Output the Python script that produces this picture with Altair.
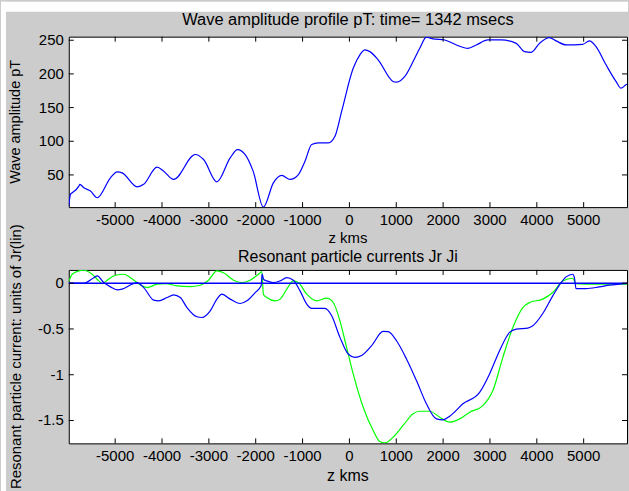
import altair as alt
import pandas as pd

# ---- wave amplitude profile (pT) vs z (km) ----
wave_z = [-5990, -5952, -5916, -5775, -5754, -5669, -5526, -5383, -5100, -4957, -4851,
          -4532, -4391, -4106, -3965, -3752, -3290, -3113, -2828, -2545, -2389, -2225,
          -2055, -1836, -1623, -1444, -1267, -1097, -948, -805, -664, -451, -309, -166,
          81, 224, 330, 437, 613, 933, 1005, 1182, 1359, 1501, 1644, 1785, 2034, 2283,
          2530, 2709, 2956, 3241, 3561, 3737, 3880, 4057, 4270, 4412, 4625, 4979, 5122,
          5264, 5477, 5690, 5797, 5903, 5990]
wave_amp = [4, 21.6, 23.5, 33.4, 36, 31, 26, 16.1, 45.7, 54.6, 53.1,
            32.4, 36, 61.5, 55.6, 43.3, 80.3, 72.9, 39.8, 75.3, 87.7, 80.3,
            55.6, 2.2, 38.3, 49.3, 43.3, 49.7, 70.4, 95.1, 97.5, 97.5, 107.4, 144.4,
            208.4, 228.3, 235.7, 233.1, 220.9, 188.8, 187.7, 196.2, 218.3, 238, 254.5, 252, 250.4, 243,
            238, 243, 250.4, 250.4, 245.4, 233.1, 232.1, 245.4, 253.8, 249, 243, 243.9, 249,
            240.5, 213.5, 188.8, 178.8, 183.9, 186]

# ---- resonant particle currents ----
jr_z = [-5990, -5669, -5456, -5383, -5243, -5100, -4957, -4851, -4638, -4532, -4391,
        -4178, -4072, -3893, -3752, -3610, -3467, -3254, -3147, -2971, -2828, -2722,
        -2545, -2332, -2189, -2012, -1885, -1862, -1830, -1763, -1623, -1480, -1337,
        -1197, -1054, -911, -805, -522, -379, -202, -26, 117, 260, 473, 720, 826, 1005,
        1218, 1431, 1644, 1857, 1997, 2140, 2423, 2779, 2992, 3205, 3418, 3561, 3808,
        3914, 4127, 4340, 4519, 4625, 4766, 4802, 4838, 5051, 5334, 5547, 5990]
jr_val = [0.0, 0.0, 0.06, 0.08, 0.007, -0.04, -0.073, -0.065, -0.01, 0.007, -0.048,
          -0.185, -0.193, -0.157, -0.127, -0.157, -0.266, -0.367, -0.375, -0.302, -0.174, -0.12,
          -0.174, -0.222, -0.193, -0.102, -0.029, 0.1, 0.04, 0.025, 0.007, 0.025, 0.06,
          0.033, -0.084, -0.229, -0.276, -0.276, -0.356, -0.592, -0.774, -0.81, -0.79, -0.683, -0.527, -0.53, -0.629,
          -0.828, -1.064, -1.318, -1.482, -1.493, -1.453, -1.318, -1.192, -0.991, -0.737, -0.538, -0.501, -0.49,
          -0.465, -0.331, -0.138, 0.007, 0.069, 0.098, 0.061, -0.059, -0.059, -0.04, -0.022, 0.0]

ji_z = [-5990, -5916, -5775, -5669, -5490, -5349, -5277, -5170, -4994, -4817, -4674,
        -4532, -4425, -4319, -4106, -3929, -3680, -3397, -3184, -3007, -2828, -2687,
        -2474, -2296, -2119, -1942, -1870, -1836, -1763, -1586, -1480, -1337, -1197,
        -1090, -911, -698, -486, -345, -202, -60, 81, 294, 507, 649, 756, 933, 1146,
        1359, 1501, 1714, 1927, 2140, 2353, 2566, 2849, 3062, 3275, 3488, 3701, 3844,
        4127, 4340, 4553, 4766, 4838, 5192, 5990]
ji_val = [0.02, 0.098, 0.134, 0.142, 0.098, 0.025, -0.004, 0.033, 0.087, 0.098, 0.06,
          0.007, -0.029, -0.048, -0.011, -0.004, -0.029, -0.037, -0.022, 0.033, 0.134, 0.115,
          0.033, 0.007, 0.033, 0.098, 0.126, -0.12, -0.157, -0.193, -0.174, -0.065, 0.025,
          0.007, -0.12, -0.193, -0.163, -0.211, -0.411, -0.702, -0.991, -1.355, -1.609, -1.729, -1.745, -1.682, -1.554,
          -1.427, -1.399, -1.399, -1.464, -1.518, -1.482, -1.41, -1.337, -1.173, -0.81, -0.484, -0.266, -0.211,
          -0.174, -0.102, 0.025, 0.054, -0.004, -0.011, -0.011]

zero_z = [-5990, 5990]
zero_val = [0.0, 0.0]

# ---- axes ----
x_ticks = [-5000, -4000, -3000, -2000, -1000, 0, 1000, 2000, 3000, 4000, 5000]
top_ticks = [50, 100, 150, 200, 250]
bottom_ticks = [0, -0.5, -1, -1.5]

top_title = "Wave amplitude profile pT: time= 1342 msecs"
bottom_title = "Resonant particle currents Jr Ji"
x_title = "z kms"
top_y_title = "Wave amplitude pT"
bottom_y_title = "Resonant particle current: units of Jr(lin)"

W = 560
H_TOP = 171
H_BOT = 174
X_DOMAIN = [-5990, 5925]
FONT = "Liberation Sans"
BLUE = "#0000ff"
GREEN = "#00ff00"


def num_label(v):
    """Plain ASCII tick text: 0, 50, -0.5, -5000 ..."""
    return "%g" % v


def panel_ticks(xs, ys, yvals, h):
    """Inward MATLAB-style ticks on all four sides of the axes box."""
    xdf = pd.DataFrame({"t": x_ticks})
    ydf = pd.DataFrame({"t": yvals})
    rule = dict(color="black", strokeWidth=1)
    return [
        alt.Chart(xdf).mark_rule(**rule).encode(
            x=alt.X("t:Q", scale=xs, axis=None), y=alt.value(h - 5), y2=alt.value(h)),
        alt.Chart(xdf).mark_rule(**rule).encode(
            x=alt.X("t:Q", scale=xs, axis=None), y=alt.value(0), y2=alt.value(5)),
        alt.Chart(ydf).mark_rule(**rule).encode(
            y=alt.Y("t:Q", scale=ys, axis=None), x=alt.value(0), x2=alt.value(5)),
        alt.Chart(ydf).mark_rule(**rule).encode(
            y=alt.Y("t:Q", scale=ys, axis=None), x=alt.value(W - 5), x2=alt.value(W)),
    ]


def text_at(text, x, y, size, angle=0):
    return alt.Chart(pd.DataFrame({"label": [text]})).mark_text(
        font=FONT, fontSize=size, color="black", align="center",
        baseline="middle", angle=angle
    ).encode(text="label:N", x=alt.value(x), y=alt.value(y))


def tick_labels_x(xs, h):
    df = pd.DataFrame({"t": x_ticks, "s": [num_label(v) for v in x_ticks]})
    return alt.Chart(df).mark_text(
        font=FONT, fontSize=15, color="black", align="center", baseline="top"
    ).encode(
        x=alt.X("t:Q", scale=xs, axis=None),
        y=alt.value(h + 6),
        text="s:N",
    )


def tick_labels_y(ys, vals):
    df = pd.DataFrame({"t": vals, "s": [num_label(v) for v in vals]})
    return alt.Chart(df).mark_text(
        font=FONT, fontSize=15, color="black", align="right", baseline="middle"
    ).encode(
        y=alt.Y("t:Q", scale=ys, axis=None),
        x=alt.value(-5),
        text="s:N",
    )


# ---------------- top panel ----------------
xs_top = alt.Scale(domain=X_DOMAIN, nice=False, zero=False)
ys_top = alt.Scale(domain=[2.2, 255.3], nice=False, zero=False)

wave_df = pd.DataFrame({"z": wave_z, "amp": wave_amp})
wave_line = alt.Chart(wave_df).mark_line(
    color=BLUE, strokeWidth=1.2, clip=True, interpolate="monotone"
).encode(
    x=alt.X("z:Q", scale=xs_top, axis=None),
    y=alt.Y("amp:Q", scale=ys_top, axis=None),
)

# white page margin above and left of the grey figure area
one = pd.DataFrame({"k": [0]})
margin_top = alt.Chart(one).mark_rect(color="white").encode(
    x=alt.value(-68), x2=alt.value(561), y=alt.value(-35), y2=alt.value(-25))
margin_left = alt.Chart(one).mark_rect(color="white").encode(
    x=alt.value(-68), x2=alt.value(-63), y=alt.value(-35), y2=alt.value(456))

top = alt.layer(
    margin_top, margin_left, wave_line,
    *panel_ticks(xs_top, ys_top, top_ticks, H_TOP),
    tick_labels_x(xs_top, H_TOP),
    tick_labels_y(ys_top, top_ticks),
    text_at(top_title, 280, -17, 16.5),
    text_at(x_title, 280, H_TOP + 31, 15),
    text_at(top_y_title, -53, H_TOP / 2, 14.5, angle=270),
).properties(width=W, height=H_TOP)

# ---------------- bottom panel ----------------
xs_bot = alt.Scale(domain=X_DOMAIN, nice=False, zero=False)
ys_bot = alt.Scale(domain=[-1.75, 0.145], nice=False, zero=False)

jr_df = pd.DataFrame({"z": jr_z, "j": jr_val})
ji_df = pd.DataFrame({"z": ji_z, "j": ji_val})
zero_df = pd.DataFrame({"z": zero_z, "j": zero_val})

enc = dict(x=alt.X("z:Q", scale=xs_bot, axis=None), y=alt.Y("j:Q", scale=ys_bot, axis=None))

ji_line = alt.Chart(ji_df).mark_line(
    color=GREEN, strokeWidth=1.2, clip=True, interpolate="monotone").encode(**enc)
jr_line = alt.Chart(jr_df).mark_line(
    color=BLUE, strokeWidth=1.2, clip=True, interpolate="monotone").encode(**enc)
zero_line = alt.Chart(zero_df).mark_line(
    color=BLUE, strokeWidth=1.5, clip=True).encode(**enc)

bottom = alt.layer(
    ji_line, jr_line, zero_line,
    *panel_ticks(xs_bot, ys_bot, bottom_ticks, H_BOT),
    tick_labels_x(xs_bot, H_BOT),
    tick_labels_y(ys_bot, bottom_ticks),
    text_at(bottom_title, 280, -13, 16),
    text_at(x_title, 280, H_BOT + 33, 16),
    text_at(bottom_y_title, -53, H_BOT / 2, 15, angle=270),
).properties(width=W, height=H_BOT)

chart = alt.vconcat(top, bottom, spacing=63, bounds="flush").properties(
    padding=0, background="#cccccc"
).configure_view(
    fill="white", stroke="black", strokeWidth=1
)

chart.save("out.html", embed_options={"renderer": "svg", "actions": False})
